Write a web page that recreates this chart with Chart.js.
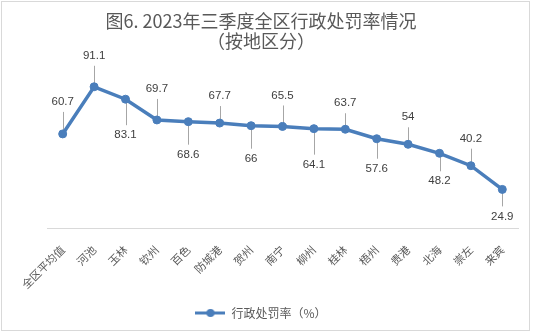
<!DOCTYPE html>
<html><head><meta charset="utf-8">
<script src="https://cdn.jsdelivr.net/npm/chart.js@4"></script>
<style>
html,body{margin:0;padding:0;background:#fff;}
#wrap{position:absolute;left:0;top:0;width:534px;height:332px;}
#frame{position:absolute;left:1px;top:1px;width:527px;height:328px;border:1px solid #d9d9d9;pointer-events:none;}
canvas{position:absolute;left:0;top:0;}
</style></head><body>
<div id="wrap"><canvas id="c" width="534" height="332"></canvas><div id="frame"></div></div>
<script>
const categories = ['全区平均值','河池','玉林','钦州','百色','防城港','贺州','南宁','柳州','桂林','梧州','贵港','北海','崇左','来宾'];
const rates = [60.7, 91.1, 83.1, 69.7, 68.6, 67.7, 66, 65.5, 64.1, 63.7, 57.6, 54, 48.2, 40.2, 24.9];
const seriesName = '行政处罚率（%）';
const titleLines = ['图6. 2023年三季度全区行政处罚率情况', '（按地区分）'];

const lineColor = '#4a7ebb';
const cjk = '"Noto Sans CJK SC", "Noto Sans", sans-serif';

const marker = document.createElement('canvas');
marker.width = 30; marker.height = 10;
(function(){
  const m = marker.getContext('2d');
  m.strokeStyle = lineColor; m.lineWidth = 3;
  m.beginPath(); m.moveTo(0,5); m.lineTo(30,5); m.stroke();
  m.fillStyle = lineColor;
  m.beginPath(); m.arc(15,5,4,0,Math.PI*2); m.fill();
})();

const leaderPlugin = {
  id: 'leaderLabels',
  beforeDatasetsDraw(chart, args, opts) {
    const meta = chart.getDatasetMeta(0);
    const ctx = chart.ctx;
    ctx.save();
    ctx.strokeStyle = '#a6a6a6';
    ctx.lineWidth = 1;
    meta.data.forEach((pt, i) => {
      const off = opts.offsets[i];
      const sign = off < 0 ? -1 : 1;
      const x = Math.round(pt.x) + 0.5;
      ctx.beginPath();
      ctx.moveTo(x, pt.y);
      ctx.lineTo(x, pt.y + off - sign * 10);
      ctx.stroke();
    });
    ctx.restore();
  },
  afterDatasetsDraw(chart, args, opts) {
    const meta = chart.getDatasetMeta(0);
    const ctx = chart.ctx;
    ctx.save();
    ctx.fillStyle = '#404040';
    ctx.font = '11.5px "Liberation Sans", Arial, sans-serif';
    ctx.textAlign = 'center';
    ctx.textBaseline = 'middle';
    meta.data.forEach((pt, i) => {
      ctx.fillText(String(rates[i]), pt.x, pt.y + opts.offsets[i]);
    });
    ctx.restore();
  }
};

new Chart(document.getElementById('c'), {
  type: 'line',
  data: {
    labels: categories,
    datasets: [{
      label: seriesName,
      data: rates,
      borderColor: lineColor,
      backgroundColor: lineColor,
      borderWidth: 3.5,
      pointRadius: 4,
      pointBackgroundColor: lineColor,
      pointBorderColor: lineColor,
      pointBorderWidth: 1,
      tension: 0,
      fill: false
    }]
  },
  options: {
    responsive: false,
    devicePixelRatio: 1,
    animation: false,
    layout: { padding: { left: 4, right: 16, top: 0, bottom: 3 } },
    scales: {
      x: {
        offset: true,
        grid: { display: false },
        border: { display: true, color: '#d9d9d9', width: 1 },
        ticks: {
          maxRotation: 45, minRotation: 45,
          autoSkip: false,
          padding: 7,
          color: '#595959',
          font: { family: cjk, size: 11 }
        },
        afterFit: s => { s.height = 69; }
      },
      y: {
        display: true, min: 0, max: 100,
        grid: { display: false },
        border: { display: false },
        ticks: { display: false },
        afterFit: s => { s.width = 43; }
      }
    },
    plugins: {
      title: {
        display: true,
        text: titleLines,
        color: '#595959',
        font: { family: cjk, size: 18, weight: 'normal', lineHeight: 20/18 },
        padding: { top: 11, bottom: 22 }
      },
      legend: {
        position: 'bottom',
        labels: {
          usePointStyle: true,
          pointStyle: marker,
          pointStyleWidth: 30,
          boxHeight: 12,
          padding: 10,
          color: '#595959',
          font: { family: cjk, size: 12 }
        }
      },
      tooltip: { enabled: false },
      leaderLabels: { offsets: [-32,-31,36,-31,33,-27,33,-31,36,-26,30,-27,28,-27,27] }
    }
  },
  plugins: [leaderPlugin]
});
</script>
</body></html>
